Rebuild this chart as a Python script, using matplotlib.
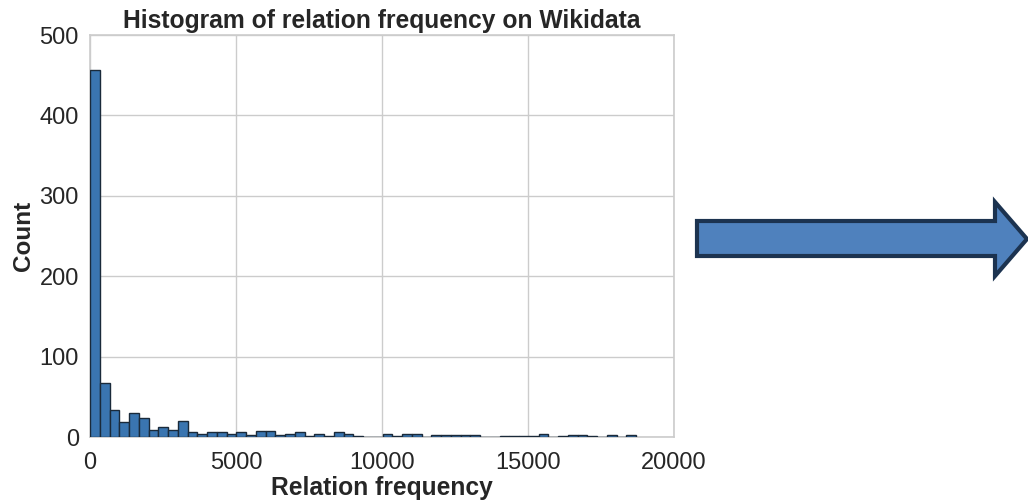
import numpy as np
import matplotlib
matplotlib.use("Agg")
import matplotlib.pyplot as plt
from matplotlib.patches import Polygon

# Histogram bin counts (bin width ~334, from 0 to ~18700)
bin_start = 0
bin_end = 18700
counts = [457, 67, 34, 19, 30, 24, 9, 12, 9, 20,
          6, 4, 6, 6, 4, 6, 3, 7, 7, 2,
          4, 6, 1, 4, 1, 6, 4, 1, 0, 0,
          4, 1, 4, 4, 0, 2, 3, 2, 2, 2,
          0, 0, 1, 1, 1, 1, 4, 0, 1, 2,
          2, 1, 0, 3, 0, 3]
title = "Histogram of relation frequency on Wikidata"
xlabel = "Relation frequency"
ylabel = "Count"
xticks = [0, 5000, 10000, 15000, 20000]
yticks = [0, 100, 200, 300, 400, 500]

plt.rcParams['font.family'] = ['Liberation Sans', 'DejaVu Sans']

fig = plt.figure(figsize=(10.28, 5.0), dpi=100)
ax = fig.add_axes([90/1028, 1-437/500, (674-90)/1028, (437-35)/500])

edges = np.linspace(bin_start, bin_end, len(counts) + 1)
ax.bar(edges[:-1], counts, width=np.diff(edges), align='edge',
       color='#3a75b0', edgecolor='#1a2a3a', linewidth=1.0, zorder=3)

ax.set_xlim(0, 20000)
ax.set_ylim(0, 500)
ax.set_xticks(xticks)
ax.set_yticks(yticks)
ax.tick_params(axis='both', length=0, labelsize=17, colors='#262626')
ax.tick_params(axis='x', pad=11)
ax.tick_params(axis='y', pad=8)
ax.grid(True, color='#cccccc', linewidth=1.0, zorder=0)
for s in ax.spines.values():
    s.set_color('#cccccc')
    s.set_linewidth(1.2)
ax.set_title(title, fontsize=17.7, fontweight='bold', color='#262626', pad=5)
ax.set_xlabel(xlabel, fontsize=17.7, fontweight='bold', color='#262626', labelpad=1)
ax.set_ylabel(ylabel, fontsize=17.5, fontweight='bold', color='#262626', labelpad=3)

# Arrow shape (figure pixel coords -> fraction)
W, H = 1028, 500
pts_px = [(697, 221), (995, 221), (995, 202), (1027, 239), (995, 276), (995, 256), (697, 256)]
pts = [(x / W, 1 - y / H) for x, y in pts_px]
arrow = Polygon(pts, closed=True, transform=fig.transFigure,
                facecolor='#4f81bd', edgecolor='#1c3350', linewidth=3, joinstyle='miter')
fig.patches.append(arrow)

fig.savefig("out.png", dpi=100)
